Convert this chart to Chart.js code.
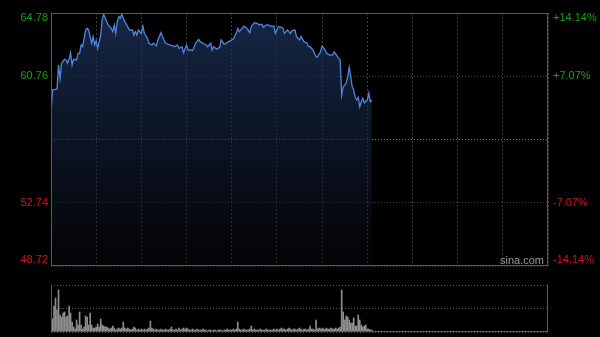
<!DOCTYPE html>
<html>
<head>
<meta charset="utf-8">
<script src="https://cdn.jsdelivr.net/npm/chart.js@4.4.0/dist/chart.umd.min.js"></script>
<style>
html, body { margin: 0; padding: 0; background: #000; width: 600px; height: 337px; overflow: hidden; }
#price { position: absolute; left: 0; top: 0; }
#vol { position: absolute; left: 0; top: 280px; }
#logo { position: absolute; left: 500px; top: 254px; font: 11px "Liberation Sans", Arial, sans-serif; color: #9a9a9a; }
</style>
</head>
<body>
<canvas id="price" width="600" height="272"></canvas>
<canvas id="vol" width="600" height="57"></canvas>
<div id="logo">sina.com</div>
<script>
// intraday, minutes since 09:30 (HK session: 330 trading minutes)
var sessionMinutes = 330;
var prevClose = 56.75;
var priceTicks = [48.72, 52.74, 56.75, 60.76, 64.78];
var pctLabels = ['-14.14%', '-7.07%', '', '+7.07%', '+14.14%'];

var minutes = [0,1,2,4,5,6,7,9,10,11,12,13,14,15,17,18,19,20,21,23,24,25,27,28,29,30,31,33,34,35,37,38,40,41,42,43,44,45,46,47,49,51,52,54,55,56,57,58,60,61,62,64,65,67,68,70,71,73,75,76,79,81,82,84,85,87,88,90,91,93,94,96,98,99,101,103,104,106,107,108,110,112,113,115,117,118,120,121,123,124,125,127,128,130,132,133,135,137,138,140,141,143,144,146,148,149,151,153,154,155,157,159,160,162,163,165,166,168,170,171,172,174,176,177,179,180,182,183,185,187,188,190,191,192,193,194,195,196,197,198,199,200,201,202,203,204,205,206,207,208,210,211,212,213];
var prices = [58.35,59.89,59.92,59.95,61.48,60.63,61.59,61.84,61.80,61.60,61.84,62.26,61.48,61.84,61.80,62.22,62.22,62.75,62.65,63.70,63.81,63.70,62.86,63.28,62.75,63.02,62.54,63.38,64.34,64.70,64.23,64.02,63.81,63.60,64.02,63.49,64.23,64.55,64.45,64.70,64.23,63.91,63.70,63.70,63.38,63.60,63.38,63.70,63.49,63.95,63.49,63.17,62.86,62.75,62.86,62.69,63.07,63.53,63.07,62.86,62.75,62.69,62.64,62.75,62.54,62.64,62.26,62.75,62.43,62.43,62.39,62.86,63.11,62.96,62.86,62.75,62.64,62.86,62.43,62.64,62.48,62.60,63.07,62.79,62.90,62.96,63.07,63.11,63.49,63.81,63.60,63.81,63.95,63.81,63.53,63.91,64.16,64.12,64.02,64.07,63.87,64.02,64.02,63.95,63.95,63.49,63.91,63.87,63.81,63.49,63.70,63.49,63.66,63.70,63.28,63.07,63.28,62.96,62.86,62.64,62.64,62.43,62.00,62.00,62.32,62.69,62.43,62.22,62.11,62.11,62.32,62.05,61.90,61.80,59.57,60.10,60.20,60.36,60.74,61.33,60.74,60.10,59.89,59.43,59.26,59.43,58.83,59.15,59.36,59.08,59.26,59.68,59.15,59.26];

// volume per minute (relative units, max = panel top)
var volMax = 47;
var volumes = [
  47,13,26,34,22,42,17,15,19,20,
  15,16,26,19,10,5,3,12,7,20,
  7,3,5,16,15,7,19,7,4,4,
  5,8,5,13,7,6,5,5,4,3,
  4,6,4,2,3,4,3,4,10,4,
  3,4,3,2,3,5,4,2,3,2,
  3,2,3,2,3,4,11,4,3,2,
  3,2,2,3,2,2,3,2,2,3,
  5,2,2,3,2,4,2,3,4,3,
  4,3,2,2,3,2,2,3,2,2,
  2,3,2,2,1,2,2,1,2,2,
  1,2,2,2,1,2,2,3,2,2,
  2,3,2,3,10,3,2,2,3,2,
  2,2,3,6,2,3,2,2,2,3,
  2,2,2,3,2,2,2,2,3,2,
  3,2,3,4,3,3,2,3,4,3,
  2,3,3,2,3,4,3,2,3,3,
  2,3,6,3,3,2,12,3,4,3,
  4,3,3,4,3,3,4,3,3,4,
  3,4,5,42,20,12,16,15,12,9,
  9,14,6,6,17,12,7,5,6,7,
  3,3,2,2
];

var green = '#16a016';
var red = '#d01515';
var gridColor = '#3c3c3c';
var frameColor = '#5a5a5a';

var framePlugin = {
  id: 'frame',
  afterDraw: function (chart, args, opts) {
    var a = chart.chartArea, ctx = chart.ctx;
    ctx.save();
    ctx.strokeStyle = frameColor;
    ctx.lineWidth = 1;
    ctx.beginPath();
    if (opts.top) { ctx.moveTo(a.left + 0.5, a.top + 0.5); ctx.lineTo(a.right - 0.5, a.top + 0.5); }
    ctx.moveTo(a.left + 0.5, a.top); ctx.lineTo(a.left + 0.5, a.bottom);
    ctx.moveTo(a.right - 0.5, a.top); ctx.lineTo(a.right - 0.5, a.bottom);
    ctx.moveTo(a.left, a.bottom - 0.5); ctx.lineTo(a.right, a.bottom - 0.5);
    ctx.stroke();
    ctx.restore();
  }
};

var sideLabels = {
  id: 'sideLabels',
  afterDraw: function (chart) {
    var a = chart.chartArea, ctx = chart.ctx, y = chart.scales.y;
    ctx.save();
    ctx.font = '11px "Liberation Sans", Arial, sans-serif';
    ctx.textBaseline = 'middle';
    priceTicks.forEach(function (v, i) {
      if (v === prevClose) return;
      var py = y.getPixelForValue(v);
      py = Math.min(Math.max(py, a.top + 5), a.bottom - 6);
      ctx.fillStyle = v > prevClose ? green : red;
      ctx.textAlign = 'right';
      ctx.fillText(v.toFixed(2), a.left - 3, py);
      ctx.textAlign = 'left';
      ctx.fillText(pctLabels[i], a.right + 5, py);
    });
    ctx.restore();
  }
};

new Chart(document.getElementById('price'), {
  type: 'line',
  data: {
    datasets: [{
      data: minutes.map(function (m, i) { return { x: m, y: prices[i] }; }),
      borderColor: '#4f86dc',
      borderWidth: 1.3,
      pointRadius: 0,
      tension: 0,
      fill: 'start',
      backgroundColor: function (c) {
        var a = c.chart.chartArea;
        if (!a) return 'rgba(30,50,90,0.6)';
        var g = c.chart.ctx.createLinearGradient(0, a.top, 0, a.bottom);
        g.addColorStop(0, 'rgba(30,52,95,0.75)');
        g.addColorStop(0.5, 'rgba(20,34,62,0.6)');
        g.addColorStop(1, 'rgba(8,10,16,0.4)');
        return g;
      }
    }]
  },
  options: {
    responsive: false,
    animation: false,
    layout: { padding: { top: 13, bottom: 6, left: 0, right: 52 } },
    plugins: { legend: { display: false }, tooltip: { enabled: false }, frame: { top: true } },
    scales: {
      x: {
        type: 'linear', min: 0, max: sessionMinutes,
        ticks: { display: false, stepSize: 30 },
        grid: { color: gridColor, drawTicks: false },
        border: { display: false, dash: [2, 2] },
        afterFit: function (s) { s.height = 0; }
      },
      y: {
        min: priceTicks[0], max: priceTicks[priceTicks.length - 1],
        afterBuildTicks: function (s) { s.ticks = priceTicks.map(function (v) { return { value: v }; }); },
        ticks: { display: false },
        grid: {
          drawTicks: false,
          color: function (c) { return c.tick && c.tick.value === prevClose ? '#7a7a7a' : gridColor; }
        },
        border: { display: false, dash: [1, 2] },
        afterFit: function (s) { s.width = 51; }
      }
    }
  },
  plugins: [framePlugin, sideLabels]
});

new Chart(document.getElementById('vol'), {
  type: 'bar',
  data: {
    datasets: [{
      data: volumes.map(function (v, i) { return { x: i, y: v }; }),
      backgroundColor: '#8e8e8e',
      barThickness: 1
    }]
  },
  options: {
    responsive: false,
    animation: false,
    layout: { padding: { top: 5, bottom: 5, left: 0, right: 52 } },
    plugins: { legend: { display: false }, tooltip: { enabled: false }, frame: { top: false } },
    scales: {
      x: {
        type: 'linear', min: 0, max: sessionMinutes, offset: false,
        ticks: { display: false },
        grid: { display: false },
        border: { display: false },
        afterFit: function (s) { s.height = 0; }
      },
      y: {
        min: 0, max: volMax,
        afterBuildTicks: function (s) { s.ticks = [{ value: 0 }, { value: volMax / 2 }, { value: volMax }]; },
        ticks: { display: false },
        grid: { drawTicks: false, color: '#5a5a5a' },
        border: { display: false, dash: [1, 2] },
        afterFit: function (s) { s.width = 51; }
      }
    }
  },
  plugins: [framePlugin]
});
</script>
</body>
</html>
